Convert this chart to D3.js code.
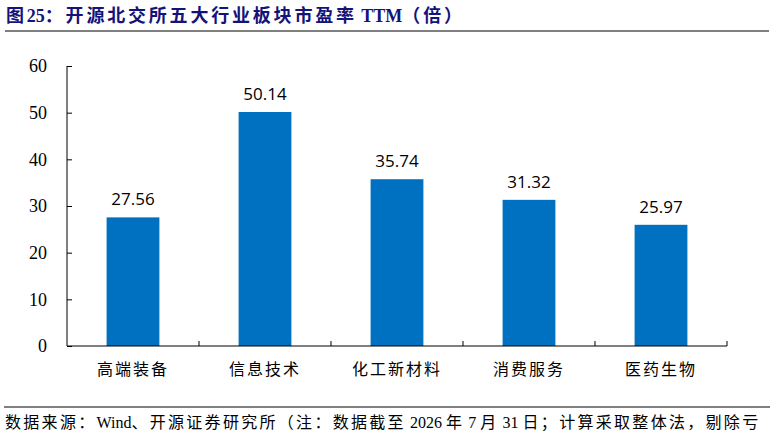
<!DOCTYPE html>
<html>
<head>
<meta charset="utf-8">
<script src="https://cdn.jsdelivr.net/npm/d3@7"></script>
<style>
  body { margin: 0; background: #fff; }
  svg { display: block; }
  .axis path, .axis line { stroke: #000; }
</style>
</head>
<body>
<div id="app"></div>
<script>
var categories = ["高端装备", "信息技术", "化工新材料", "消费服务", "医药生物"]
var peValues = [27.56, 50.14, 35.74, 31.32, 25.97]
var yTicks = [0, 10, 20, 30, 40, 50, 60]
var titleText = "图25：开源北交所五大行业板块市盈率 TTM（倍）"
var sourceText = "数据来源：Wind、开源证券研究所（注：数据截至 2026 年 7 月 31 日；计算采取整体法，剔除亏"

var W = 774, H = 437
var plot = {left: 67, right: 727, top: 66, bottom: 346}

var svg = d3.select("#app").append("svg")
  .attr("width", W).attr("height", H)

// split a string into CJK and latin runs so only CJK gets extra spacing
function addRuns(textSel, str, cjkSpacing) {
  var runs = str.match(/[\u3000-\u9fff\uff00-\uffef]+|[^\u3000-\u9fff\uff00-\uffef]+/g)
  textSel.selectAll("tspan").data(runs).enter().append("tspan")
    .style("letter-spacing", d => /[\u3000-\u9fff\uff00-\uffef]/.test(d) ? cjkSpacing + "px" : "0px")
    .text(d => d)
}

// title
var title = svg.append("text")
  .attr("x", 6).attr("y", 22)
  .style("font-family", "'Liberation Serif','Noto Sans CJK SC',serif")
  .style("font-weight", "bold")
  .style("font-size", "18px")
  .style("fill", "#13137a")
addRuns(title, titleText, 2.8)

svg.append("line")
  .attr("x1", 5).attr("x2", 769).attr("y1", 31).attr("y2", 31)
  .style("stroke", "#000").style("stroke-width", 1.2)

var x = d3.scaleBand().domain(categories).range([plot.left, plot.right]).paddingInner(0.6).paddingOuter(0.3)
var xb = d3.scaleBand().domain(categories).range([plot.left, plot.right])
var y = d3.scaleLinear().domain([0, 60]).range([plot.bottom, plot.top])

// bars
svg.selectAll(".bar").data(categories).enter().append("rect")
  .attr("x", d => x(d))
  .attr("width", x.bandwidth())
  .attr("y", (d, i) => y(peValues[i]))
  .attr("height", (d, i) => y(0) - y(peValues[i]))
  .style("fill", "#0070c0")

svg.selectAll(".val").data(categories).enter().append("text")
  .attr("x", d => x(d) + x.bandwidth() / 2)
  .attr("y", (d, i) => y(peValues[i]) - 12)
  .attr("text-anchor", "middle")
  .style("font-family", "'Open Sans','Noto Sans',sans-serif")
  .style("font-size", "17px")
  .style("fill", "#000")
  .text((d, i) => peValues[i].toFixed(2))

// y axis
var yAxis = svg.append("g").attr("class", "axis")
  .attr("transform", "translate(" + plot.left + ",0)")
  .call(d3.axisRight(y).tickValues(yTicks).tickSize(5).tickFormat(d3.format("d")))
yAxis.select(".domain").attr("d", "M0," + plot.top + "V" + plot.bottom)
yAxis.selectAll("text")
  .attr("x", -20).attr("text-anchor", "end")
  .style("font-family", "'Liberation Serif',serif")
  .style("font-size", "18px")
  .style("fill", "#000")

// x axis with boundary ticks pointing up
var xAxis = svg.append("g").attr("class", "axis")
  .attr("transform", "translate(0," + plot.bottom + ")")
xAxis.append("line").attr("x1", plot.left).attr("x2", plot.right)
  .style("stroke", "#000")
var bounds = categories.map(d => xb(d)).concat([plot.right])
xAxis.selectAll(".tk").data(bounds.slice(1)).enter().append("line")
  .attr("x1", d => d).attr("x2", d => d).attr("y1", 0).attr("y2", -5)
  .style("stroke", "#000")
xAxis.selectAll(".cat").data(categories).enter().append("text")
  .attr("x", d => xb(d) + xb.bandwidth() / 2)
  .attr("y", 29)
  .attr("text-anchor", "middle")
  .style("font-family", "'Noto Sans CJK SC',sans-serif")
  .style("font-size", "16px")
  .style("letter-spacing", "2px")
  .style("fill", "#000")
  .text(d => d)

// footer
svg.append("line")
  .attr("x1", 4).attr("x2", 770).attr("y1", 407).attr("y2", 407)
  .style("stroke", "#000").style("stroke-width", 1)

var source = svg.append("text")
  .attr("x", 5).attr("y", 428)
  .style("font-family", "'Liberation Serif','Noto Sans CJK SC',serif")
  .style("font-size", "16px")
  .style("fill", "#000")
addRuns(source, sourceText, 2.3)
</script>
</body>
</html>
